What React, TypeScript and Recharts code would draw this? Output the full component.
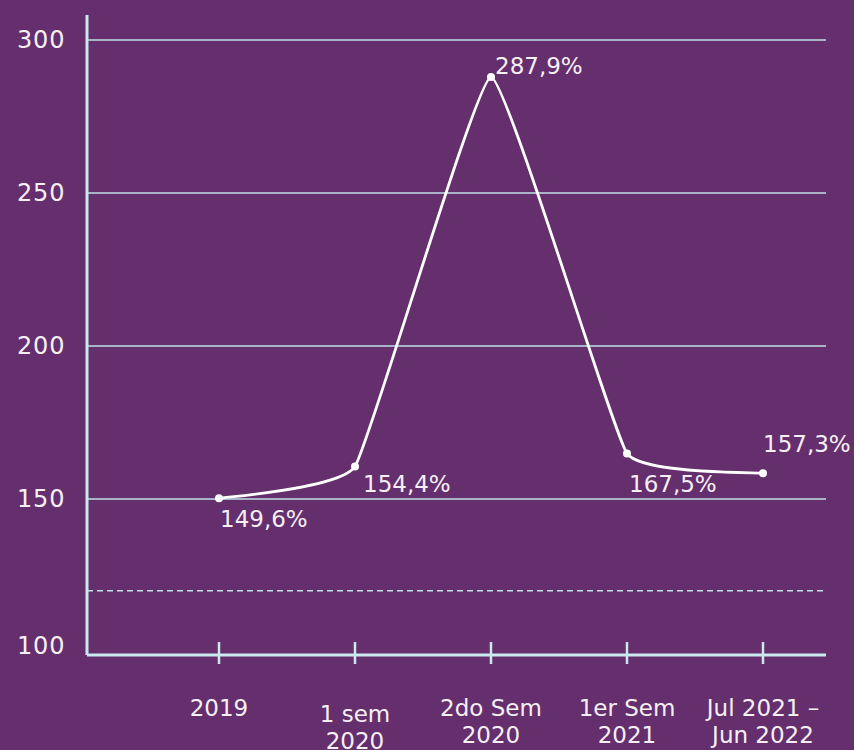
import { LineChart, Line, XAxis, YAxis, CartesianGrid, ReferenceLine, LabelList } from 'recharts';

const categories = ['2019', '1 sem\n2020', '2do Sem\n2020', '1er Sem\n2021', 'Jul 2021 –\nJun 2022'];
const values = [150.2, 160.6, 287.9, 164.9, 158.4];
const valueLabels = ['149,6%', '154,4%', '287,9%', '167,5%', '157,3%'];
const yTicks = [100, 150, 200, 250, 300];
const gridValues = [150, 200, 250, 300];
const dashedValue = 120;

const data = categories.map((c, i) => ({ period: c, value: values[i], label: valueLabels[i] }));

const BG = '#642f6c';
const AXIS = '#c9e9ee';
const GRID = '#c0e1e7';
const TEXT = '#f6eff6';
const FONT = '"DejaVu Sans", sans-serif';

// cardinal spline with tension, written as a d3 curve factory
function cardinalCurve(tension: number) {
  const k = (1 - tension) / 6;
  return (context: any) => {
    let xs: number[] = [];
    let ys: number[] = [];
    return {
      areaStart() {},
      areaEnd() {},
      lineStart() {
        xs = [];
        ys = [];
      },
      point(x: number, y: number) {
        xs.push(+x);
        ys.push(+y);
      },
      lineEnd() {
        const n = xs.length;
        if (!n) return;
        context.moveTo(xs[0], ys[0]);
        for (let i = 0; i < n - 1; i++) {
          const p = Math.max(i - 1, 0);
          const q = Math.min(i + 2, n - 1);
          context.bezierCurveTo(
            xs[i] + k * (xs[i + 1] - xs[p]),
            ys[i] + k * (ys[i + 1] - ys[p]),
            xs[i + 1] - k * (xs[q] - xs[i]),
            ys[i + 1] - k * (ys[q] - ys[i]),
            xs[i + 1],
            ys[i + 1],
          );
        }
      },
    };
  };
}

const labelOffsets = [
  [1, 29],
  [8, 25],
  [4, -3],
  [2, 39],
  [0, -21],
];

const XTick = ({ x, y, payload, index }: any) => {
  const lines = String(payload.value).split('\n');
  const shift = index === 1 ? 6 : 0;
  return (
    <g>
      <line x1={x} x2={x} y1={y - 13} y2={y + 9} stroke={AXIS} strokeWidth={2.5} />
      {lines.map((l, i) => (
        <text
          key={i}
          x={x}
          y={y + 61 + shift + i * 27}
          textAnchor="middle"
          fill={TEXT}
          fontSize={23}
          fontFamily={FONT}
        >
          {l}
        </text>
      ))}
    </g>
  );
};

const YTick = ({ x, y, payload }: any) => (
  <text x={x - 70} y={payload.value === 100 ? y + 2 : y + 8} fill={TEXT} fontSize={24} fontFamily={FONT} letterSpacing={0.8}>
    {payload.value}
  </text>
);

const PointLabel = ({ x, y, index, value }: any) => {
  const [dx, dy] = labelOffsets[index] || [0, 0];
  return (
    <text x={x + dx} y={y + dy} fill={TEXT} fontSize={23} fontFamily={FONT}>
      {value}
    </text>
  );
};

export default function App() {
  return (
    <div style={{ position: 'absolute', left: 0, top: 0, width: 854, height: 750, background: BG }}>
      <LineChart width={854} height={750} data={data} margin={{ top: 15, right: 28, bottom: 0, left: 0 }}>
        <CartesianGrid horizontal vertical={false} horizontalValues={gridValues} stroke={GRID} strokeWidth={1.5} />
        <ReferenceLine y={dashedValue} stroke={GRID} strokeWidth={1.4} strokeDasharray="6 4" />
        <XAxis
          dataKey="period"
          height={95}
          padding={{ left: 132, right: 63 }}
          axisLine={{ stroke: AXIS, strokeWidth: 3 }}
          tickLine={false}
          tickSize={0}
          tickMargin={0}
          interval={0}
          tick={<XTick />}
        />
        <YAxis
          width={87}
          domain={[99, 308.2]}
          ticks={yTicks}
          type="number"
          allowDataOverflow
          axisLine={{ stroke: AXIS, strokeWidth: 3 }}
          tickLine={false}
          tickSize={0}
          tickMargin={0}
          tick={<YTick />}
        />
        <Line
          dataKey="value"
          type={cardinalCurve(0.68) as any}
          stroke="#ffffff"
          strokeWidth={2.8}
          dot={{ r: 4, fill: '#ffffff', stroke: 'none' }}
          activeDot={false}
          isAnimationActive={false}
        >
          <LabelList dataKey="label" content={<PointLabel />} />
        </Line>
      </LineChart>
    </div>
  );
}
